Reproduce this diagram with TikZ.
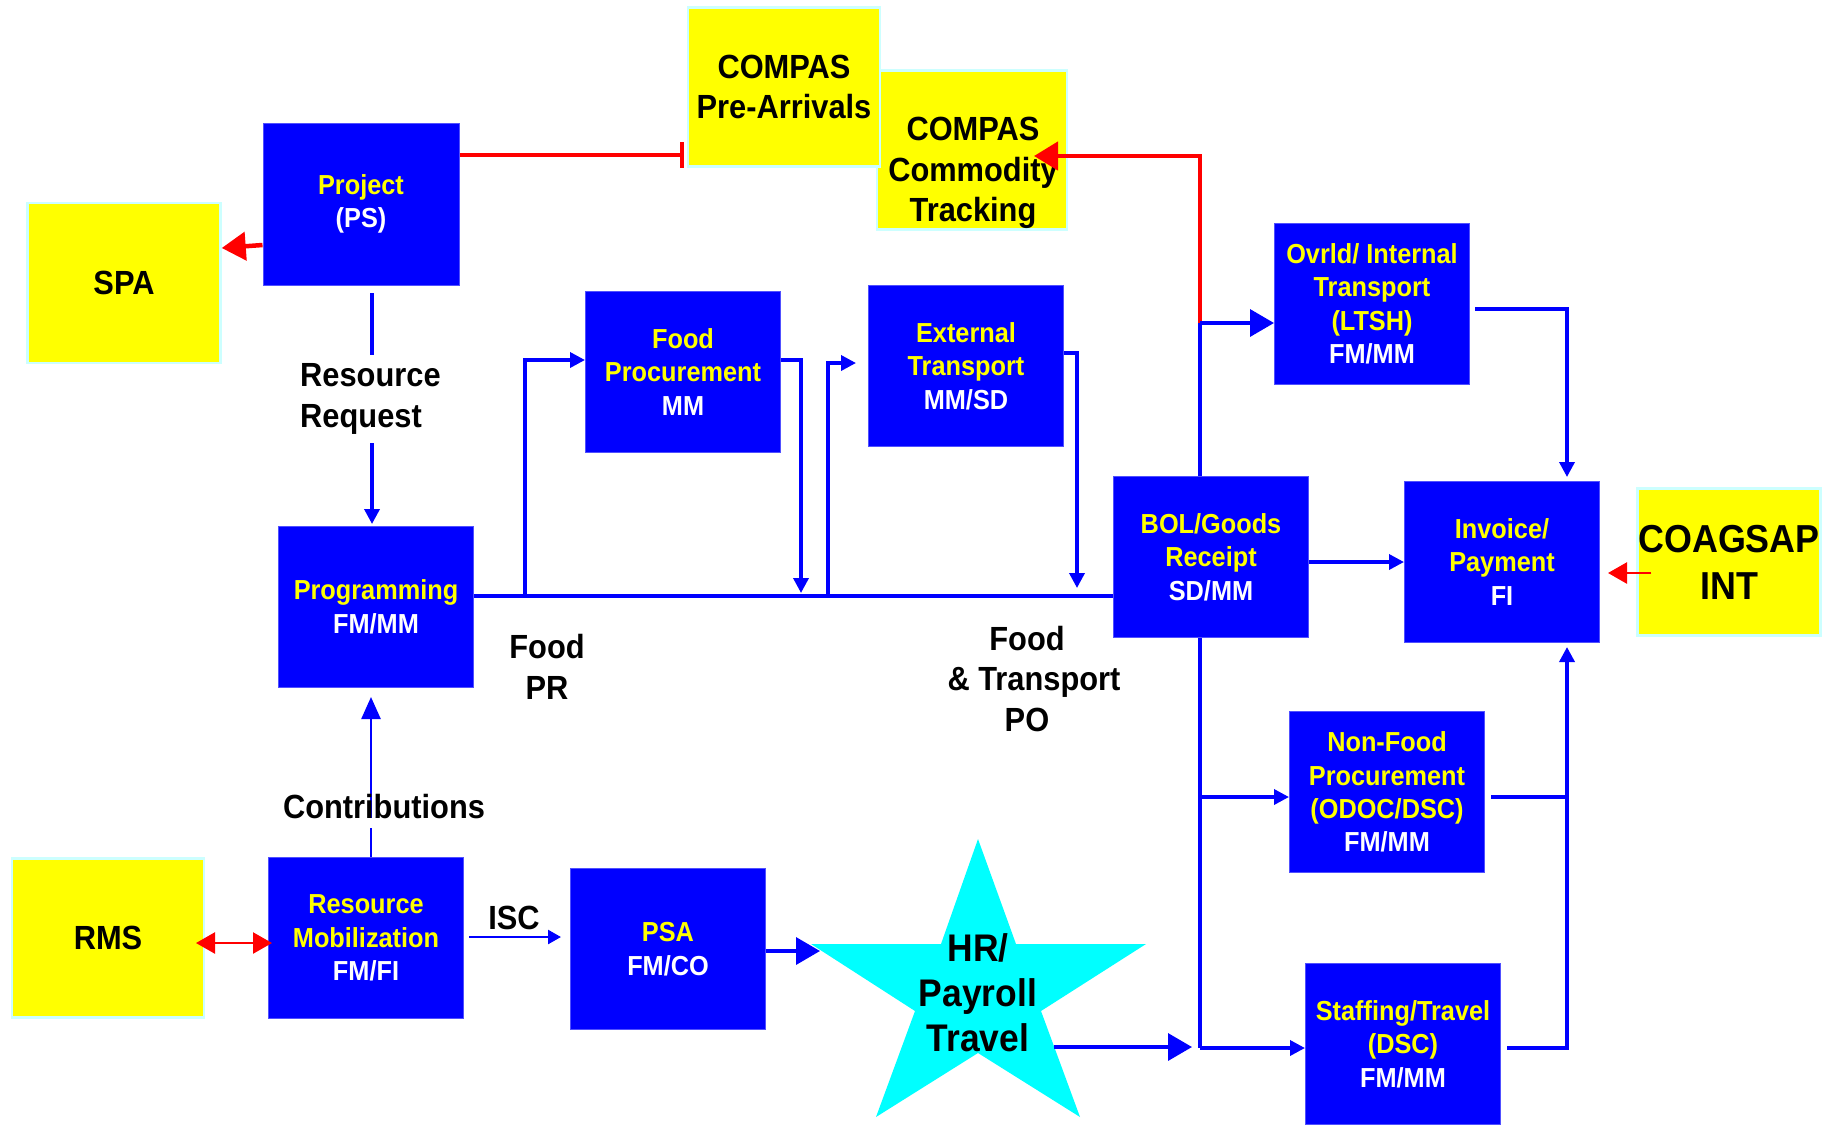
\documentclass[tikz,border=0pt]{standalone}
\usepackage{fontspec}
\setmainfont[FakeStretch=0.92]{Liberation Sans}
\usetikzlibrary{arrows.meta,calc}
\definecolor{bxblue}{RGB}{0,0,255}
\definecolor{bxedge}{RGB}{80,80,255}
\definecolor{bxyellow}{RGB}{255,255,0}
\definecolor{yedge}{RGB}{204,255,255}
\definecolor{starcyan}{RGB}{0,255,255}
\definecolor{lnred}{RGB}{255,0,0}
\definecolor{txyellow}{RGB}{255,255,0}
\begin{document}
\begin{tikzpicture}[x=1pt,y=-1pt,
  bbox/.style={draw=bxedge, line width=1pt, fill=bxblue, minimum width=195pt, minimum height=161pt,
    text=txyellow, align=center, font=\fontsize{27.5}{33.4}\selectfont\bfseries, inner sep=0pt},
  ybox/.style={draw=yedge, line width=2.5pt, fill=bxyellow, align=center, text=black,
    font=\fontsize{33.5}{40}\selectfont\bfseries, inner sep=0pt},
  ytext/.style={align=center, text=black, font=\fontsize{33.5}{40.5}\selectfont\bfseries, inner sep=0pt},
  lbl/.style={align=center, text=black, font=\fontsize{33.5}{40.5}\selectfont\bfseries, inner sep=0pt},
  bl/.style={draw=bxblue, line width=3.5pt},
  blthin/.style={draw=bxblue, line width=2.5pt},
  rl/.style={draw=lnred, line width=4.5pt},
  rlthin/.style={draw=lnred, line width=2.5pt},
  sarr/.style={-{Triangle[length=15pt,width=15pt]}},
  barr/.style={-{Triangle[length=24pt,width=27pt]}},
  rarr/.style={-{Triangle[length=24pt,width=28pt]}},
  rsarr/.style={-{Triangle[length=19pt,width=21pt]}}
]
\useasboundingbox (0,0) rectangle (1839,1125);

% ---------- yellow boxes ----------
\node[ybox, minimum width=190pt, minimum height=159pt] (com) at (972,150) {};
\node[ytext] (comt) at (973,173) {COMPAS\\Commodity\\Tracking};
\node[ybox, minimum width=192pt, minimum height=159pt] (pre) at (784,87) {COMPAS\\Pre-Arrivals};
\node[ybox, minimum width=193pt, minimum height=160pt] (spa) at (124,283) {SPA};
\node[ybox, minimum width=192pt, minimum height=159pt] (rms) at (108,938) {RMS};
\node[ybox, minimum width=183pt, minimum height=147pt, font=\fontsize{39}{47}\selectfont\bfseries] (coa) at (1729,562) {COAGSAP\\INT};

% ---------- blue boxes ----------
\node[bbox, minimum width=196pt, minimum height=162pt] (prj) at (361,204) {Project\\\textcolor{white}{(PS)}};
\node[bbox] (prog) at (376,607) {Programming\\\textcolor{white}{FM/MM}};
\node[bbox] (fp) at (683,372) {Food\\Procurement\\\textcolor{white}{MM}};
\node[bbox] (et) at (966,366) {External\\Transport\\\textcolor{white}{MM/SD}};
\node[bbox] (ov) at (1372,304) {Ovrld/ Internal\\Transport\\(LTSH)\\\textcolor{white}{FM/MM}};
\node[bbox] (bol) at (1211,557) {BOL/Goods\\Receipt\\\textcolor{white}{SD/MM}};
\node[bbox] (inv) at (1502,562) {Invoice/\\Payment\\\textcolor{white}{FI}};
\node[bbox] (nf) at (1387,792) {Non-Food\\Procurement\\(ODOC/DSC)\\\textcolor{white}{FM/MM}};
\node[bbox] (rm) at (366,938) {Resource\\Mobilization\\\textcolor{white}{FM/FI}};
\node[bbox] (psa) at (668,949) {PSA\\\textcolor{white}{FM/CO}};
\node[bbox] (stf) at (1403,1044) {Staffing/Travel\\(DSC)\\\textcolor{white}{FM/MM}};

% ---------- star ----------
\fill[starcyan] (978,839) -- (1016,944) -- (1146,944) -- (1041,1011) -- (1080,1117)
  -- (978,1053) -- (876,1117) -- (915,1011) -- (811,944) -- (941,944) -- cycle;
\node[align=center, font=\fontsize{38.5}{45}\selectfont\bfseries, inner sep=0pt] (hr) at (978,993) {HR/\\Payroll\\Travel};
\coordinate (starL) at (820,951);
\coordinate (starR) at (1054,1047);

% ---------- junction coordinates ----------
\coordinate (j1) at (1200,323);
\coordinate (jnf) at (1200,797);
\coordinate (jst) at (1200,1048);
\coordinate (jfp) at (525,596);
\coordinate (jet) at (828,596);

% ---------- labels ----------
\node[lbl] (foodpr) at (547,667) {Food\\PR};
\node[lbl] (ftpo) at (1027,679) {Food\\\hspace*{14pt}\& Transport\\PO};
\node[lbl] (isc) at (514,918) {ISC};

% ---------- red connectors ----------
\draw[rl, rarr] (prj.west |- 0,245) -- (spa.east |- 0,248);
\draw[rl, -{Bar[width=26pt]}] (prj.east |- 0,155) -- (684,155);
\draw[rl, rarr, line join=miter] (j1) -- (1200,156) -- (1034,156);
\draw[rlthin, rsarr] (coa.west |- 0,573) ++(15,0) -- (1608,573);
\draw[rlthin, {Triangle[length=19pt,width=21pt]}-{Triangle[length=19pt,width=21pt]}] (196,943) -- (272,943);

% ---------- blue connectors ----------
\draw[bl] (bol.north -| j1) -- (j1);
\draw[bl, barr] (j1) -- (ov.west |- j1);
\draw[bl, sarr, line join=miter] (ov.east |- 0,309) ++(5,0) -- (1567,309) -- (1567,477);
\draw[bl, sarr] (bol.east |- 0,562) -- (inv.west |- 0,562);
\draw[bl] (bol.south -| j1) -- (jst);
\draw[bl, sarr] (jnf) -- (nf.west |- jnf);
\draw[bl, sarr] (jst) -- (stf.west |- jst);
\draw[bl] (nf.east |- 0,797) ++(6,0) -- (1567,797);
\draw[bl, sarr, line join=miter] (stf.east |- 0,1048) ++(6,0) -- (1567,1048) -- (1567,647);
\draw[bl, barr] (starR) -- (1192,1047);
\draw[bl, barr] (psa.east |- starL) -- (starL);
\draw[blthin, -{Triangle[length=13pt,width=14pt]}] (469,937) -- (561,937);

% Contributions
\draw[blthin] (rm.north -| 371,0) -- (371,828);
\draw[blthin, -{Triangle[length=22pt,width=19pt]}] (371,818) -- (371,697);
\node[lbl] (contrib) at (384,807) {Contributions};

% Resource request
\draw[bl, sarr] (372,293) -- (372,524);
\node[lbl, align=left, anchor=west, fill=white, inner xsep=1pt, inner ysep=9pt] (rr) at (299,399) {Resource\\Request};

% Programming bus
\draw[bl] (prog.east |- jfp) -- (bol.west |- jfp);
\draw[bl, sarr, line join=miter] (jfp) -- (525,360) -- (fp.west |- 0,360);
\draw[bl, sarr, line join=miter] (fp.east |- 0,360) -- (801,360) -- (801,593);
\draw[bl, sarr, line join=miter] (jet) -- (828,363) -- (856,363);
\draw[bl, sarr, line join=miter] (et.east |- 0,353) -- (1077,353) -- (1077,588);
\end{tikzpicture}
\end{document}
